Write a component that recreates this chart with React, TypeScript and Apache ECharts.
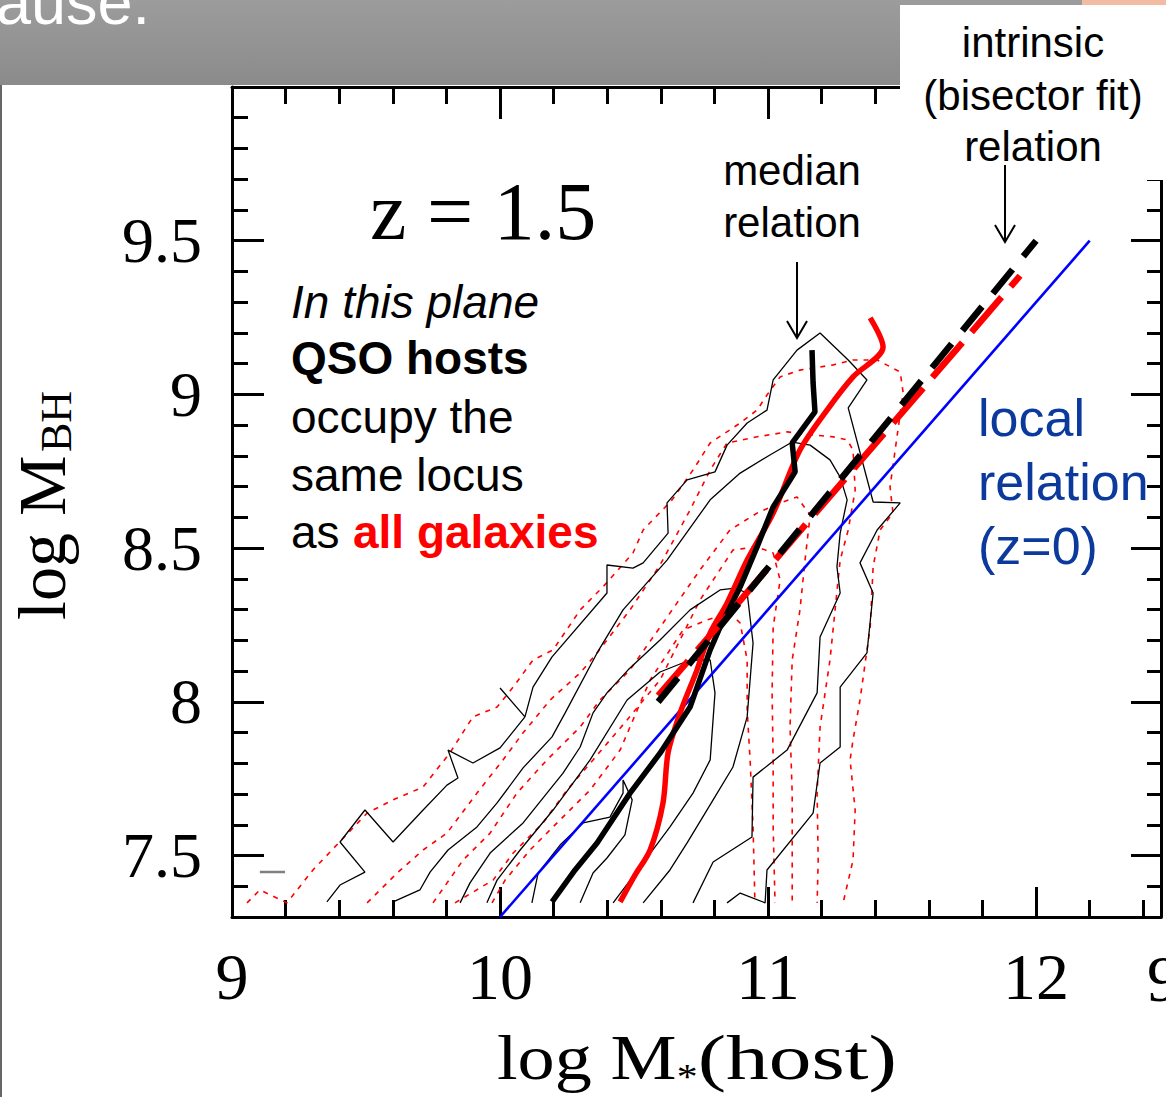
import React, { useEffect, useRef } from "react";
import * as echarts from "echarts";

// ---------- axes ----------
const xRange = [9, 12.466];
const yRange = [7.3, 10.0];
const xMajorTicks = [9, 10, 11, 12];
const xMinorTicks = [9.2, 9.4, 9.6, 9.8, 10.2, 10.4, 10.6, 10.8, 11.2, 11.4, 11.6, 11.8, 12.2, 12.4];
const yMajorTicks = [7.5, 8, 8.5, 9, 9.5];
const yMinorTicks = [7.4, 7.6, 7.7, 7.8, 7.9, 8.1, 8.2, 8.3, 8.4, 8.6, 8.7, 8.8, 8.9, 9.1, 9.2, 9.3, 9.4, 9.6, 9.7, 9.8, 9.9];

// ---------- data (log M*, log MBH) ----------
const contourBlack1 = [
  [9.354, 7.349], [9.403, 7.404], [9.496, 7.446], [9.403, 7.544], [9.496, 7.648], [9.601, 7.544], [9.713, 7.648],
  [9.802, 7.729], [9.843, 7.752], [9.806, 7.843], [9.899, 7.801], [10.0, 7.85], [10.093, 7.951], [10.0, 8.045],
  [10.093, 7.951], [10.123, 8.048], [10.194, 8.146], [10.399, 8.354], [10.399, 8.445], [10.496, 8.435], [10.534, 8.452],
  [10.627, 8.549], [10.623, 8.647], [10.698, 8.722], [10.802, 8.748], [10.847, 8.835], [10.922, 8.907], [10.996, 8.949],
  [11.019, 9.047], [11.108, 9.144], [11.194, 9.2], [11.299, 9.112], [11.369, 9.047], [11.299, 8.956], [11.392, 8.65],
  [11.493, 8.647], [11.407, 8.559], [11.343, 8.452], [11.392, 8.354], [11.369, 8.159], [11.269, 8.048], [11.269, 7.853],
  [11.194, 7.801], [11.168, 7.638], [10.996, 7.453], [10.989, 7.346], [10.896, 7.378], [10.847, 7.346],
];
const contourBlack2 = [
  [9.601, 7.349], [9.701, 7.388], [9.739, 7.446], [9.806, 7.518], [9.914, 7.593], [9.989, 7.671], [10.086, 7.785],
  [10.194, 7.886], [10.243, 7.964], [10.362, 8.159], [10.459, 8.299], [10.623, 8.461], [10.784, 8.657], [10.896, 8.744],
  [11.007, 8.803], [11.09, 8.845], [11.157, 8.835], [11.231, 8.787], [11.269, 8.731], [11.295, 8.657], [11.269, 8.549],
  [11.257, 8.439], [11.269, 8.354], [11.194, 8.211], [11.183, 8.029], [11.071, 7.843], [10.944, 7.755], [10.94, 7.56],
  [10.795, 7.479], [10.72, 7.346],
];
const contourBlack3 = [
  [9.851, 7.346], [9.888, 7.411], [9.963, 7.508], [10.086, 7.606], [10.175, 7.703], [10.235, 7.768], [10.299, 7.853],
  [10.347, 7.964], [10.399, 8.029], [10.478, 8.104], [10.597, 8.201], [10.709, 8.299], [10.821, 8.364], [10.877, 8.37],
  [10.922, 8.354], [10.944, 8.191], [10.922, 7.951], [10.869, 7.788], [10.795, 7.681], [10.698, 7.541], [10.634, 7.453],
  [10.534, 7.346],
];
const contourBlack4 = [
  [9.951, 7.346], [9.989, 7.42], [10.075, 7.518], [10.198, 7.648], [10.336, 7.811], [10.474, 8.006], [10.597, 8.097],
  [10.709, 8.136], [10.784, 8.136], [10.802, 8.029], [10.784, 7.811], [10.72, 7.703], [10.634, 7.593], [10.534, 7.476],
  [10.422, 7.346],
];
const contourBlack5 = [
  [10.119, 7.346], [10.142, 7.443], [10.224, 7.534], [10.31, 7.606], [10.41, 7.625], [10.459, 7.703], [10.459, 7.746],
  [10.493, 7.681], [10.466, 7.567], [10.399, 7.492], [10.347, 7.443], [10.299, 7.346],
];
const contourRed1 = [
  [9.056, 7.346], [9.104, 7.388], [9.205, 7.346], [9.302, 7.453], [9.504, 7.638], [9.601, 7.681], [9.713, 7.723],
  [9.813, 7.834], [9.899, 7.951], [9.989, 7.983], [10.049, 8.048], [10.123, 8.136], [10.198, 8.169], [10.299, 8.299],
  [10.384, 8.374], [10.496, 8.484], [10.534, 8.559], [10.642, 8.657], [10.72, 8.754], [10.784, 8.842], [10.896, 8.907],
  [10.959, 8.949], [10.996, 8.998], [11.045, 9.057], [11.119, 9.079], [11.243, 9.096], [11.317, 9.112], [11.407, 9.112],
  [11.493, 9.073], [11.504, 9.005], [11.481, 8.862], [11.455, 8.699], [11.466, 8.614], [11.418, 8.559], [11.392, 8.439],
  [11.381, 8.243], [11.343, 8.006], [11.317, 7.876], [11.306, 7.811], [11.325, 7.648], [11.317, 7.485], [11.28, 7.346],
];
const contourRed2 = [
  [9.504, 7.346], [9.616, 7.443], [9.713, 7.518], [9.802, 7.573], [9.914, 7.703], [10.011, 7.811], [10.086, 7.899],
  [10.187, 8.006], [10.299, 8.094], [10.362, 8.159], [10.485, 8.299], [10.597, 8.445], [10.709, 8.624], [10.784, 8.754],
  [10.847, 8.842], [10.959, 8.862], [11.071, 8.878], [11.168, 8.868], [11.243, 8.862], [11.295, 8.852], [11.317, 8.819],
  [11.325, 8.689], [11.299, 8.559], [11.269, 8.461], [11.231, 8.136], [11.194, 7.918], [11.183, 7.703], [11.187, 7.485],
  [11.183, 7.346],
];
const contourRed3 = [
  [9.75, 7.346], [9.862, 7.485], [9.963, 7.573], [10.063, 7.703], [10.175, 7.811], [10.299, 7.918], [10.373, 8.006],
  [10.485, 8.104], [10.616, 8.266], [10.746, 8.429], [10.858, 8.559], [10.959, 8.614], [11.045, 8.647], [11.108, 8.666],
  [11.157, 8.608], [11.138, 8.461], [11.119, 8.299], [11.09, 8.136], [11.082, 7.918], [11.09, 7.703], [11.09, 7.346],
];
const contourRed4 = [
  [9.832, 7.346], [9.974, 7.42], [10.049, 7.508], [10.16, 7.606], [10.25, 7.713], [10.347, 7.811], [10.474, 7.941],
  [10.597, 8.071], [10.746, 8.331], [10.869, 8.494], [10.959, 8.504], [11.019, 8.484], [11.045, 8.396], [11.019, 8.243],
  [11.015, 8.029], [11.019, 7.811], [11.019, 7.593], [11.026, 7.346],
];
const contourRed5 = [
  [9.97, 7.346], [10.019, 7.42], [10.112, 7.518], [10.224, 7.616], [10.336, 7.713], [10.448, 7.843], [10.56, 8.071],
  [10.683, 8.234], [10.772, 8.266], [10.858, 8.289], [10.896, 8.256], [10.922, 8.136], [10.922, 7.973], [10.933, 7.811],
  [10.944, 7.593], [10.951, 7.346],
];
const medianQSO = [
  [10.194, 7.349], [10.28, 7.453], [10.362, 7.541], [10.485, 7.703], [10.597, 7.833], [10.709, 7.983], [10.784, 8.169],
  [10.821, 8.243], [10.896, 8.374], [10.959, 8.504], [11.019, 8.634], [11.101, 8.748], [11.09, 8.842], [11.175, 8.943],
  [11.168, 9.037], [11.164, 9.144],
];
const medianAll = [
  [10.448, 7.349], [10.504, 7.437], [10.56, 7.518], [10.608, 7.671], [10.627, 7.834], [10.672, 7.964], [10.735, 8.104],
  [10.784, 8.224], [10.847, 8.321], [10.922, 8.461], [11.019, 8.614], [11.119, 8.819], [11.22, 8.949], [11.317, 9.057],
  [11.429, 9.154], [11.381, 9.249],
];
const bisectorQSO = [[10.59, 8.0], [12.0, 9.5]];
const bisectorAll = [[10.59, 8.02], [11.94, 9.386]];
const localRelation = [[10.0, 7.3], [12.2, 9.5]];
const grayMark = [[9.104, 7.446], [9.198, 7.446]];

const SERIF = '"Liberation Serif", "DejaVu Serif", serif';
const SANS = '"Liberation Sans", Arial, sans-serif';

function lineSeries(data: number[][], color: string, width: number, type: any, extra: any = {}) {
  return {
    type: "line",
    data,
    symbol: "none",
    showSymbol: false,
    silent: true,
    xAxisIndex: 0,
    yAxisIndex: 0,
    lineStyle: { color, width, type, cap: "butt" },
    ...extra,
  };
}

function xAx(position: string, ticks: number[], len: number, showLine: boolean, labels: boolean) {
  return {
    type: "value",
    min: xRange[0],
    max: xRange[1],
    position,
    splitLine: { show: false },
    axisLine: { show: showLine, onZero: false, lineStyle: { color: "#000", width: 3 } },
    axisTick: { show: true, inside: true, length: len, customValues: ticks, lineStyle: { color: "#000", width: 3 } },
    axisLabel: labels
      ? { show: true, customValues: ticks, margin: 26, color: "#000", fontSize: 66, fontFamily: SERIF }
      : { show: false },
  };
}
function yAx(position: string, ticks: number[], len: number, showLine: boolean, labels: boolean) {
  return {
    type: "value",
    min: yRange[0],
    max: yRange[1],
    position,
    splitLine: { show: false },
    axisLine: { show: showLine, onZero: false, lineStyle: { color: "#000", width: 3 } },
    axisTick: { show: true, inside: true, length: len, customValues: ticks, lineStyle: { color: "#000", width: 3 } },
    axisLabel: labels
      ? { show: true, customValues: ticks, margin: 30, color: "#000", fontSize: 64, fontFamily: SERIF, formatter: (v: number) => String(v) }
      : { show: false },
  };
}

function txt(text: string, x: number, y: number, font: string, fill = "#000", align = "left", z = 110) {
  return {
    type: "text",
    x,
    y,
    z,
    silent: true,
    style: { text, font, fill, align, textAlign: align, verticalAlign: "middle", textVerticalAlign: "middle" },
  };
}

export default function App() {
  const ref = useRef<HTMLDivElement>(null);
  useEffect(() => {
    document.body.style.margin = "0";
    const chart = echarts.init(ref.current as HTMLDivElement, null, { renderer: "svg", width: 1166, height: 1097 });
    const option: any = {
      animation: false,
      backgroundColor: "#fff",
      grid: { left: 232, top: 87, width: 929, height: 830, containLabel: false, outerBoundsMode: "none" },
      xAxis: [
        xAx("bottom", xMajorTicks, 30, true, true),
        xAx("bottom", xMinorTicks, 17, false, false),
        xAx("top", xMajorTicks, 32, true, false),
        xAx("top", xMinorTicks, 17, false, false),
      ],
      yAxis: [
        yAx("left", yMajorTicks, 32, true, true),
        yAx("left", yMinorTicks, 16, false, false),
        yAx("right", yMajorTicks, 30, true, false),
        yAx("right", yMinorTicks, 14, false, false),
      ],
      series: [
        lineSeries(contourRed1, "#ff0000", 1.6, [5, 6]),
        lineSeries(contourRed2, "#ff0000", 1.6, [5, 6]),
        lineSeries(contourRed3, "#ff0000", 1.6, [5, 6]),
        lineSeries(contourRed4, "#ff0000", 1.6, [5, 6]),
        lineSeries(contourRed5, "#ff0000", 1.6, [5, 6]),
        lineSeries(contourBlack1, "#000", 1.3, "solid"),
        lineSeries(contourBlack2, "#000", 1.3, "solid"),
        lineSeries(contourBlack3, "#000", 1.3, "solid"),
        lineSeries(contourBlack4, "#000", 1.3, "solid"),
        lineSeries(contourBlack5, "#000", 1.3, "solid"),
        lineSeries(grayMark, "#808080", 2.5, "solid"),
        lineSeries(localRelation, "#0000ff", 2.6, "solid"),
        lineSeries(medianAll, "#ff0000", 5.5, "solid", { smooth: 0.3 }),
        lineSeries(medianQSO, "#000", 5.5, "solid"),
        lineSeries(bisectorAll, "#ff0000", 6.5, [46, 14]),
        lineSeries(bisectorQSO, "#000", 6.5, [31, 17]),
      ],
      graphic: [
        // slide banner
        {
          type: "rect", z: 100, silent: true,
          shape: { x: 0, y: 0, width: 1166, height: 85 },
          style: {
            fill: new echarts.graphic.LinearGradient(0, 0, 0, 1, [
              { offset: 0, color: "#9c9c9c" },
              { offset: 1, color: "#8b8b8b" },
            ]),
          },
        },
        { type: "rect", z: 101, silent: true, shape: { x: 1082, y: 0, width: 84, height: 5 }, style: { fill: "#f2bca4" } },
        txt("ause.", -4, 2, `63px ${SANS}`, "#ffffff", "left", 102),
        { type: "rect", z: 103, silent: true, shape: { x: 900, y: 5, width: 266, height: 175 }, style: { fill: "#ffffff" } },
        { type: "rect", z: 103, silent: true, shape: { x: 0, y: 85, width: 2, height: 1012 }, style: { fill: "#666666" } },
        txt("intrinsic", 1033, 42, `42px ${SANS}`, "#000", "center"),
        txt("(bisector fit)", 1033, 95, `42px ${SANS}`, "#000", "center"),
        txt("relation", 1033, 146, `42px ${SANS}`, "#000", "center"),
        // arrows
        { type: "line", z: 110, silent: true, shape: { x1: 1005, y1: 165, x2: 1005, y2: 242 }, style: { stroke: "#000", lineWidth: 2 } },
        { type: "polyline", z: 110, silent: true, shape: { points: [[995, 225], [1005, 242], [1015, 225]] }, style: { stroke: "#000", lineWidth: 2, fill: null } },
        { type: "line", z: 110, silent: true, shape: { x1: 797, y1: 262, x2: 797, y2: 338 }, style: { stroke: "#000", lineWidth: 2 } },
        { type: "polyline", z: 110, silent: true, shape: { points: [[787, 321], [797, 338], [807, 321]] }, style: { stroke: "#000", lineWidth: 2, fill: null } },
        txt("median", 792, 170, `42px ${SANS}`, "#000", "center"),
        txt("relation", 792, 222, `42px ${SANS}`, "#000", "center"),
        // z=1.5
        txt("z = 1.5", 370, 211, `82px ${SERIF}`, "#000", "left"),
        // left annotation
        txt("In this plane", 291, 302, `italic 46px ${SANS}`),
        txt("QSO hosts", 291, 358, `bold 46px ${SANS}`),
        txt("occupy the", 291, 417, `46px ${SANS}`),
        txt("same locus", 291, 475, `46px ${SANS}`),
        txt("as", 291, 532, `46px ${SANS}`),
        txt("all galaxies", 353, 532, `bold 46px ${SANS}`, "#ff0000"),
        // local relation
        txt("local", 978, 418, `52px ${SANS}`, "#0b3a9c"),
        txt("relation", 978, 482, `52px ${SANS}`, "#0b3a9c"),
        txt("(z=0)", 978, 546, `52px ${SANS}`, "#0b3a9c"),
        // neighbouring panel label (cut off at the right edge, as in the slide)
        txt("9", 1147, 978, `66px ${SERIF}`, "#000", "left"),
        // y axis title (rotated)
        {
          type: "group", x: 42, y: 620, rotation: Math.PI / 2, z: 110, silent: true,
          children: [
            { type: "text", x: 0, y: 0, style: { text: "log M", font: `68px ${SERIF}`, fill: "#000", align: "left", verticalAlign: "middle", textAlign: "left", textVerticalAlign: "middle" } },
            { type: "text", x: 168, y: 14, style: { text: "BH", font: `44px ${SERIF}`, fill: "#000", align: "left", verticalAlign: "middle", textAlign: "left", textVerticalAlign: "middle" } },
          ],
        },
        // x axis title
        {
          type: "group", x: 497, y: 1057, scaleX: 1.16, z: 110, silent: true,
          children: [
            { type: "text", x: 0, y: 0, style: { text: "log M", font: `64px ${SERIF}`, fill: "#000", align: "left", verticalAlign: "middle", textAlign: "left", textVerticalAlign: "middle" } },
            { type: "text", x: 155, y: 20, style: { text: "*", font: `36px ${SERIF}`, fill: "#000", align: "left", verticalAlign: "middle", textAlign: "left", textVerticalAlign: "middle" } },
            { type: "text", x: 173, y: 0, scaleX: 1.15, style: { text: "(host)", font: `64px ${SERIF}`, fill: "#000", align: "left", verticalAlign: "middle", textAlign: "left", textVerticalAlign: "middle" } },
          ],
        },
      ],
    };
    chart.setOption(option);
    return () => chart.dispose();
  }, []);
  return <div ref={ref} style={{ width: 1166, height: 1097, background: "#fff" }} />;
}
